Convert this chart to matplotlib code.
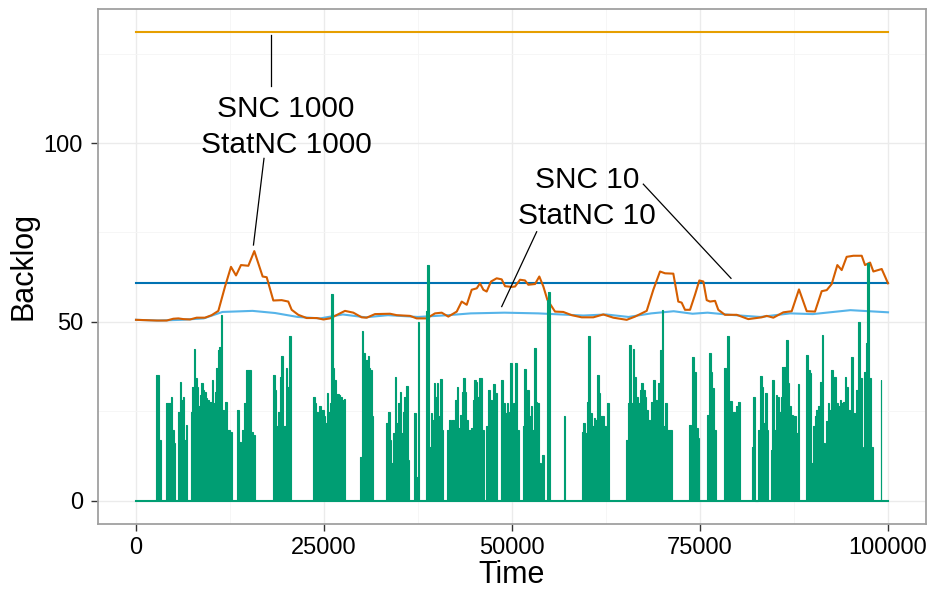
import numpy as np
import matplotlib
matplotlib.use('Agg')
import matplotlib.pyplot as plt
from matplotlib.ticker import MultipleLocator

plt.rcParams['font.family'] = ['Liberation Sans', 'DejaVu Sans']

# flat series
snc1000_level = 131.0
snc10_level = 61.0

# StatNC 1000 (vermillion)
stat1000_t = [0, 2750, 4080, 4960, 5630, 6290, 7180, 8070, 9180, 10060, 10950, 11840,
              12630, 13300, 13960, 14940, 15730, 16840, 17380, 18260, 19370, 20250, 20700,
              21580, 22690, 24030, 24910, 25800, 27790, 28900, 30010, 30680, 31780, 33780,
              34670, 36440, 37320, 38650, 39760, 40650, 41530, 42650, 43310, 43980, 44640,
              45310, 45740, 46190, 46630, 47210, 47960, 48630, 49070, 49960, 50400, 51060,
              51730, 52170, 53060, 53630, 54170, 54700, 55720, 56820, 57940, 59270, 60810,
              62140, 63470, 65250, 66360, 67910, 68790, 69680, 70350, 71450, 72110, 72560,
              73000, 73670, 74330, 74910, 75440, 75890, 76330, 77000, 77430, 78320, 79880,
              81420, 83200, 83870, 84750, 86080, 87190, 88160, 89190, 90290, 91180, 91850,
              92510, 93260, 93840, 94500, 95390, 96500, 96940, 97610, 98050, 99160, 100000]
stat1000_v = [50.6, 50.4, 50.4, 50.9, 51.0, 50.8, 50.7, 51.2, 51.2, 51.9, 53.1, 59.9,
              65.4, 63.0, 65.9, 65.7, 69.8, 62.7, 62.5, 56.0, 56.1, 55.7, 53.4,
              52.0, 51.1, 51.1, 50.7, 51.0, 53.1, 52.6, 51.3, 51.2, 52.2, 52.3,
              51.9, 51.7, 51.0, 51.0, 52.4, 52.6, 51.5, 52.9, 55.7, 54.8, 59.0,
              59.4, 60.8, 59.0, 58.5, 61.3, 62.2, 61.9, 60.0, 59.8, 59.9, 61.8,
              61.6, 60.4, 60.6, 62.7, 59.9, 56.2, 52.9, 52.8, 51.9, 51.3, 51.3,
              52.1, 51.2, 50.6, 51.5, 53.1, 59.0, 64.1, 63.6, 63.5, 55.7, 55.4,
              53.4, 53.4, 57.6, 61.6, 61.3, 56.1, 55.7, 55.9, 53.4, 52.0, 52.0,
              50.8, 51.3, 51.7, 51.2, 52.7, 53.0, 59.1, 53.0, 52.9, 58.6, 58.9,
              60.6, 65.9, 64.5, 68.2, 68.5, 68.5, 65.9, 66.6, 64.1, 64.8, 60.8]

# StatNC 10 (light blue)
stat10_t = [0, 3000, 6000, 9000, 11500, 15500, 18500, 21500, 24500, 27500, 30500, 33500,
            37500, 41500, 44500, 49000, 53500, 56500, 59500, 62500, 65500, 68500, 71500,
            74000, 76000, 79000, 83000, 87000, 90000, 95000, 100000]
stat10_v = [50.6, 50.4, 50.6, 51.0, 52.8, 53.1, 52.5, 51.4, 51.0, 52.1, 51.3, 51.9,
            51.4, 51.9, 52.4, 52.6, 52.4, 52.1, 51.8, 52.1, 51.4, 52.4, 53.0,
            52.3, 52.6, 52.0, 51.4, 52.4, 52.2, 53.3, 52.7]

# green series: bursts of activity (start, end, heights)
burst_start = [2700, 4000, 5650, 7250, 13450, 18250, 23550, 29850, 33300, 37000, 38550,
               41400, 46600, 48600, 51400, 54050, 54700, 56950, 59250, 65150, 73550,
               75950, 78200, 81850, 84400, 89150, 91750, 96800, 99000]
burst_end = [3300, 5250, 6800, 12700, 15800, 20550, 27800, 31550, 36350, 37650, 40850,
             46250, 47950, 50950, 53800, 54200, 55000, 57050, 62900, 71250, 74900,
             77100, 80250, 84100, 88200, 91600, 96700, 97950, 99100]
burst_heights = [
    [35.2, 17.0],
    [27.3, 27.3, 27.3, 28.9, 19.8, 16.1],
    [24.9, 33.3, 28.2, 29.1, 17.0, 21.2],
    [24.9, 31.9, 42.4, 34.3, 31.9, 26.4, 29.6, 32.9, 31.0, 30.5, 28.7, 28.2, 23.1, 27.7,
     33.8, 27.3, 30.5, 37.1, 42.2, 43.1, 52.0, 25.4, 19.8, 27.7, 19.8, 19.8, 19.4],
    [25.4, 16.6, 16.1, 19.8, 27.3, 36.6, 36.6, 36.6, 19.4, 18.4],
    [35.2, 31.0, 20.8, 24.9, 34.7, 40.6, 17.0, 20.8, 37.1, 31.9, 46.1],
    [29.1, 27.3, 24.9, 19.8, 26.4, 23.6, 25.4, 23.6, 21.7, 30.1, 24.9, 27.3, 57.8, 37.1,
     33.8, 27.3, 29.9, 29.6, 29.1, 28.2, 28.4],
    [12.4, 47.5, 41.2, 34.7, 39.4, 40.6, 37.1, 36.6, 23.6],
    [21.9, 24.9, 17.0, 10.5, 18.9, 34.7, 21.7, 27.3, 30.5, 18.9, 24.9, 29.1, 32.1, 11.5],
    [24.5, 6.8, 49.9],
    [53.1, 65.9, 15.2, 24.5, 22.6, 32.9, 29.1, 32.9, 23.6, 34.0, 19.8],
    [19.8, 22.6, 20.8, 22.6, 10.5, 28.2, 31.8, 20.3, 24.0, 30.5, 34.3, 30.5, 22.6, 19.8,
     19.8, 20.3, 28.2, 33.8, 33.3, 29.1, 34.3, 34.3, 19.8],
    [20.8, 31.0, 28.2, 19.8, 32.6, 30.1],
    [33.8, 27.3, 27.3, 24.5, 27.3, 24.9, 21.7, 38.5, 27.3, 18.9, 27.3, 38.5, 19.4, 19.8],
    [20.8, 36.8, 28.2, 31.0, 23.6, 26.4, 19.8, 42.6, 27.7, 27.3, 10.5],
    [12.7],
    [56.2, 58.5],
    [23.6],
    [19.4, 21.7, 18.9, 27.7, 46.1, 24.5, 20.8, 23.1, 22.6, 35.2, 30.1, 23.6, 23.6, 20.8,
     10.5, 27.3],
    [17.0, 27.3, 43.6, 27.3, 42.4, 34.7, 29.1, 27.3, 31.0, 32.9, 31.0, 29.1, 25.4, 22.6,
     19.8, 27.7, 33.8, 28.2, 21.7, 32.9, 42.2, 53.3, 20.8, 27.3, 19.8, 19.8, 19.8],
    [21.2, 19.8, 40.3, 36.1, 20.3, 17.5],
    [23.9, 41.2, 36.1, 31.5, 19.8],
    [37.1, 31.0, 46.1, 23.6, 28.0, 22.6, 24.9, 24.0, 26.4, 27.7],
    [15.2, 29.1, 0, 0, 19.8, 35.0, 31.9, 21.7, 30.1, 19.8],
    [14.2, 33.8, 19.8, 29.6, 29.1, 24.9, 29.1, 37.5, 37.5, 45.1, 32.9, 26.4, 24.0, 23.6,
     23.6, 18.9, 32.6],
    [40.8, 36.6, 35.7, 10.5, 20.8, 23.6, 25.4, 26.4, 33.3, 46.3, 16.1],
    [22.2, 27.3, 25.4, 36.6, 33.8, 34.7, 27.3, 26.4, 28.2, 27.3, 27.7, 34.7, 31.9, 25.4,
     24.9, 40.3, 24.5, 23.6, 31.0, 50.1, 34.3, 15.2],
    [36.1, 44.0, 66.6, 34.3, 15.2],
    [33.8],
]

# labels
labels = ['SNC 1000', 'StatNC 1000', 'SNC 10', 'StatNC 10']
label_x = [19930, 19930, 59930, 59930]
label_y = [107.3, 97.1, 87.3, 77.4]
# leader lines ((x0, y0), (x1, y1))
leaders = [((17910, 116.0), (17910, 130.2)),
           ((17020, 95.7), (15620, 71.5)),
           ((67460, 88.5), (79120, 62.2)),
           ((53280, 75.2), (48630, 54.3))]

c_orange = '#E69F00'
c_dblue = '#0072B2'
c_lblue = '#56B4E9'
c_verm = '#D55E00'
c_green = '#009E73'

fig = plt.figure(figsize=(9.3, 5.89), dpi=100)
ax = fig.add_axes([0.1058, 0.1097, 0.8895, 0.8757])

lw = 1.5
ax.plot([0, 100000], [snc1000_level, snc1000_level], color=c_orange, lw=lw, zorder=3)
ax.plot([0, 100000], [snc10_level, snc10_level], color=c_dblue, lw=lw, zorder=3)
ax.plot(stat10_t, stat10_v, color=c_lblue, lw=lw, zorder=3)
ax.plot(stat1000_t, stat1000_v, color=c_verm, lw=lw, zorder=4)

# green: baseline plus bursts
ax.plot([0, 100000], [0, 0], color=c_green, lw=lw, zorder=5)
for s, e, hs in zip(burst_start, burst_end, burst_heights):
    edges = np.linspace(s, e, len(hs) + 1)
    ax.stairs(hs, edges, baseline=0, fill=True, color=c_green, zorder=5)
    ax.stairs(hs, edges, baseline=0, fill=False, color=c_green, lw=0.8, zorder=5)

for (p0, p1) in leaders:
    ax.plot([p0[0], p1[0]], [p0[1], p1[1]], color='black', lw=0.9, zorder=6)
for txt, x, y in zip(labels, label_x, label_y):
    ax.text(x, y, txt, ha='center', va='baseline', fontsize=21.5, color='black', zorder=7)

ax.set_xlim(-5000, 105000)
ax.set_ylim(-6.55, 137.55)
ax.set_xticks([0, 25000, 50000, 75000, 100000])
ax.set_xticklabels(['0', '25000', '50000', '75000', '100000'])
ax.set_yticks([0, 50, 100])
ax.xaxis.set_minor_locator(MultipleLocator(12500))
ax.yaxis.set_minor_locator(MultipleLocator(25))

ax.grid(which='major', color='#EBEBEB', lw=1.0)
ax.grid(which='minor', color='#F5F5F5', lw=0.6)
ax.set_axisbelow(True)
ax.tick_params(which='minor', length=0)
ax.tick_params(axis='both', which='major', length=5, width=1.0, color='#333333',
               labelsize=17, labelcolor='black')
ax.tick_params(axis='x', pad=4)
ax.tick_params(axis='y', pad=6)
for sp in ax.spines.values():
    sp.set_color('#A0A0A0')
    sp.set_linewidth(1.3)

ax.set_xlabel('Time', fontsize=22, labelpad=1)
ax.set_ylabel('Backlog', fontsize=22, labelpad=4)

fig.savefig('out.png', dpi=100)
